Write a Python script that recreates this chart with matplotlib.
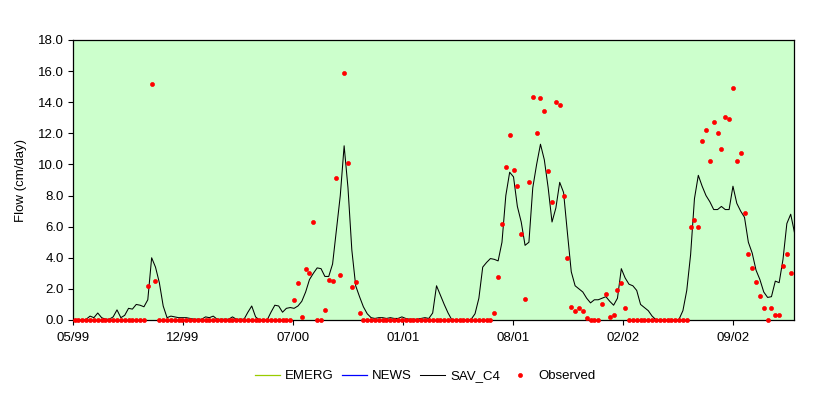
import matplotlib
matplotlib.use("Agg")
import matplotlib.pyplot as plt
import matplotlib.dates as mdates
import numpy as np
import pandas as pd

plt.rcParams['font.family'] = ['Liberation Sans', 'DejaVu Sans']

# weekly series
nan = np.nan
observed = [
    0, 0, 0, 0, 0, 0, 0, 0, 0, 0,
    0, 0, 0, 0, 0, 0, 0, 0, 0, 2.2,
    15.2, 2.5, 0, 0, 0, 0, 0, 0, 0, 0,
    0, 0, 0, 0, 0, 0, 0, 0, 0, 0,
    0, 0, 0, 0, 0, 0, 0, 0, 0, 0,
    0, 0, 0, 0, 0, 0, 0, 1.3, 2.4, 0.2,
    3.3, 3.0, 6.3, 0, 0, 0.65, 2.6, 2.5, 9.1, 2.9,
    15.9, 10.1, 2.15, 2.45, 0.47, 0, 0, 0, 0, 0,
    0, 0, 0, 0, 0, 0, 0, 0, 0, 0,
    0, 0, 0, 0, 0, 0, 0, 0, 0, 0,
    0, 0, 0, 0, 0, 0, 0, 0, 0, 0.45,
    2.75, 6.2, 9.85, 11.9, 9.65, 8.6, 5.5, 1.35, 8.9, 14.35,
    12.0, 14.3, 13.45, 9.6, 7.6, 14.0, 13.85, 8.0, 4.0, 0.85,
    0.6, 0.8, 0.55, 0.1, 0, 0, 0, 1.0, 1.7, 0.2,
    0.35, 1.95, 2.4, 0.75, 0, 0, 0, 0, 0, 0,
    0, 0, 0, 0, 0, 0, 0, 0, 0, 0,
    6.0, 6.45, 6.0, 11.5, 12.2, 10.2, 12.7, 12.05, 11.0, 13.05,
    12.9, 14.9, 10.25, 10.75, 6.9, 4.25, 3.35, 2.45, 1.55, 0.75,
    0.0, 0.8, 0.3, 0.3, 3.5, 4.25, 3.0, nan,
]

sav_c4 = [
    0, 0, 0, 0.05, 0.25, 0.15, 0.45, 0.15, 0.05, 0.05,
    0.2, 0.65, 0.15, 0.3, 0.75, 0.7, 1.0, 0.95, 0.85, 1.3,
    4.0, 3.4, 2.4, 0.9, 0.15, 0.25, 0.2, 0.15, 0.15, 0.15,
    0.1, 0.05, 0.05, 0.05, 0.2, 0.15, 0.25, 0.05, 0.05, 0.05,
    0.05, 0.2, 0.05, 0.05, 0.05, 0.5, 0.9, 0.2, 0, 0,
    0, 0.5, 0.95, 0.9, 0.5, 0.75, 0.8, 0.75, 0.9, 1.2,
    1.8, 2.6, 3.0, 3.35, 3.3, 2.8, 2.8, 3.6, 5.8, 8.0,
    11.2, 8.5, 4.5, 2.2, 1.5, 0.85, 0.4, 0.15, 0.1, 0.15,
    0.15, 0.1, 0.15, 0.1, 0.1, 0.2, 0.1, 0.05, 0.05, 0.05,
    0.1, 0.15, 0.1, 0.45, 2.2, 1.6, 1.0, 0.45, 0, 0,
    0, 0, 0, 0.05, 0.4, 1.4, 3.4, 3.7, 3.95, 3.9,
    3.8, 5.0, 8.0, 9.5, 9.2, 7.3, 6.3, 4.8, 5.0, 8.5,
    10.0, 11.3, 10.3, 8.5, 6.3, 7.2, 8.85, 8.2, 5.6, 3.1,
    2.2, 2.0, 1.8, 1.4, 1.1, 1.3, 1.3, 1.4, 1.5, 1.2,
    0.95, 1.4, 3.3, 2.7, 2.3, 2.2, 1.9, 1.0, 0.8, 0.6,
    0.25, 0.02, 0, 0, 0, 0, 0, 0.05, 0.6, 1.9,
    4.2, 7.8, 9.3, 8.6, 8.0, 7.6, 7.1, 7.1, 7.3, 7.1,
    7.1, 8.6, 7.5, 7.0, 6.6, 5.0, 4.3, 3.2, 2.6, 1.8,
    1.45, 1.5, 2.5, 2.4, 3.9, 6.2, 6.8, 5.6,
]
emerg = []
news = []

dates = pd.date_range('1999-06-03', periods=len(sav_c4), freq='7D')
axis_start = pd.Timestamp('1999-05-31')
axis_end = axis_start + pd.Timedelta(days=1311)
tick_dates = pd.date_range(axis_start, periods=7, freq='200D')

fig = plt.figure(figsize=(8.3, 3.97), dpi=100)
ax = fig.add_axes([73/830, 1-320/397, (794-73)/830, (320-40)/397])
ax.set_facecolor('#CCFFCC')

ax.plot(dates[:len(emerg)], emerg, color='#99CC00', lw=0.9, label='EMERG')
ax.plot(dates[:len(news)], news, color='#0000FF', lw=0.9, label='NEWS')
ax.plot(dates, sav_c4, color='black', lw=0.75, label='SAV_C4')
ax.plot(dates, observed, ls='none', marker='o', ms=2.9, color='#FF0000',
        mec='#FF0000', mew=0.5, label='Observed', clip_on=False, zorder=5)

ax.set_xlim(axis_start, axis_end)
ax.set_ylim(0, 18)
ax.set_yticks(np.arange(0, 18.1, 2))
ax.yaxis.set_major_formatter(matplotlib.ticker.FormatStrFormatter('%.1f'))
ax.set_xticks(tick_dates)
ax.xaxis.set_major_formatter(mdates.DateFormatter('%m/%y'))
ax.tick_params(direction='out', length=3.5, width=0.8, labelsize=9.5, pad=3)
ax.tick_params(axis='x', pad=5)
for s in ax.spines.values():
    s.set_linewidth(0.9)

ax.set_ylabel('Flow (cm/day)', fontsize=9.5)
ax.yaxis.set_label_coords(-0.064, 0.5)

fig.legend(loc='center', bbox_to_anchor=(425/830, 1-376/397), ncol=4,
           frameon=False, fontsize=9.5, handlelength=1.9, handletextpad=0.4,
           columnspacing=0.6)

fig.savefig('out.png', dpi=100)
